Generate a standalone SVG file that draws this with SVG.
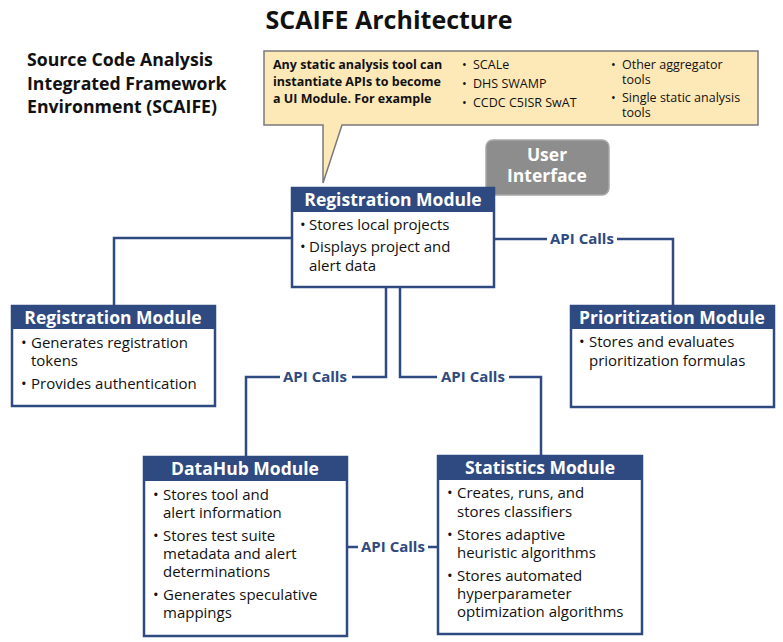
<svg xmlns="http://www.w3.org/2000/svg" width="783" height="642" viewBox="0 0 783 642">
<style>
text{font-family:"Open Sans","Noto Sans","Liberation Sans",sans-serif;}
.hd{fill:#2f4a80;}
.box{fill:#fff;stroke:#2f4a80;stroke-width:2.5;}
.ht{fill:#fff;font-weight:bold;font-size:17.5px;text-anchor:middle;}
.bt{fill:#111;font-size:15px;}
.ct{fill:#111;font-size:12.5px;}
.cb{fill:#111;font-size:12.5px;font-weight:bold;}
.ln{fill:none;stroke:#2f4a80;stroke-width:2.5;}
.api{fill:#2f4a80;font-weight:bold;font-size:15px;}
</style>
<rect width="783" height="642" fill="#fff"/>
<text x="389" y="29" text-anchor="middle" font-weight="bold" font-size="25" fill="#111">SCAIFE Architecture</text>
<g id="heading">
<text x="27" y="66" font-weight="bold" font-size="17.7" fill="#111">Source Code Analysis</text>
<text x="27" y="90" font-weight="bold" font-size="17.7" fill="#111">Integrated Framework</text>
<text x="27" y="113" font-weight="bold" font-size="17.7" fill="#111">Environment (SCAIFE)</text>
</g>
<g id="callout">
<path d="M264,51 H758 V125 H342 L323,183 V125 H264 Z" fill="#fde8b7" stroke="#7a7a7a" stroke-width="1.5"/>
<text class="cb" x="273" y="69">Any static analysis tool can</text>
<text class="cb" x="273" y="86">instantiate APIs to become</text>
<text class="cb" x="273" y="103">a UI Module. For example</text>
<text class="ct" x="462" y="69">•</text><text class="ct" x="473" y="69">SCALe</text>
<text class="ct" x="462" y="88">•</text><text class="ct" x="473" y="88">DHS SWAMP</text>
<text class="ct" x="462" y="107">•</text><text class="ct" x="473" y="107">CCDC C5ISR SwAT</text>
<text class="ct" x="611" y="69">•</text><text class="ct" x="622" y="69">Other aggregator</text>
<text class="ct" x="622" y="84">tools</text>
<text class="ct" x="611" y="102">•</text><text class="ct" x="622" y="102">Single static analysis</text>
<text class="ct" x="622" y="117">tools</text>
</g>
<g id="ui">
<rect x="486" y="140" width="123" height="55" rx="7" fill="#8d8d8d" stroke="#a8a8a8" stroke-width="1.5"/>
<text x="547" y="161" text-anchor="middle" font-weight="bold" font-size="17.5" fill="#fff">User</text>
<text x="547" y="182" text-anchor="middle" font-weight="bold" font-size="17.5" fill="#fff">Interface</text>
</g>
<g id="connectors">
<path class="ln" d="M292,238 H114 V306"/>
<path class="ln" d="M494,239 H547 M617,239 H673 V306"/>
<text class="api" x="550" y="244">API Calls</text>
<path class="ln" d="M386,287 V377 H352 M280,377 H246 V457"/>
<text class="api" x="283" y="382">API Calls</text>
<path class="ln" d="M400,287 V377 H437 M509,377 H541 V456"/>
<text class="api" x="441" y="382">API Calls</text>
<path class="ln" d="M347,547 H358 M428,547 H438"/>
<text class="api" x="361" y="552">API Calls</text>
</g>
<g id="reg-top">
<rect class="box" x="292" y="188" width="202" height="99"/>
<rect class="hd" x="292" y="188" width="202" height="24"/>
<text class="ht" x="393" y="206">Registration Module</text>
<text class="bt" x="300" y="230">•</text><text class="bt" x="309" y="230">Stores local projects</text>
<text class="bt" x="300" y="252">•</text><text class="bt" x="309" y="252">Displays project and</text>
<text class="bt" x="309" y="271">alert data</text>
</g>
<g id="reg-left">
<rect class="box" x="12" y="306" width="203" height="100"/>
<rect class="hd" x="12" y="306" width="203" height="23"/>
<text class="ht" x="113" y="324">Registration Module</text>
<text class="bt" x="21" y="348">•</text><text class="bt" x="31" y="348">Generates registration</text>
<text class="bt" x="31" y="366">tokens</text>
<text class="bt" x="21" y="389">•</text><text class="bt" x="31" y="389">Provides authentication</text>
</g>
<g id="prio">
<rect class="box" x="571" y="306" width="203" height="101"/>
<rect class="hd" x="571" y="306" width="203" height="23"/>
<text class="ht" x="672" y="324">Prioritization Module</text>
<text class="bt" x="579" y="347">•</text><text class="bt" x="589" y="347">Stores and evaluates</text>
<text class="bt" x="589" y="366">prioritization formulas</text>
</g>
<g id="datahub">
<rect class="box" x="144" y="457" width="203" height="179"/>
<rect class="hd" x="144" y="457" width="203" height="24"/>
<text class="ht" x="245" y="475">DataHub Module</text>
<text class="bt" x="153" y="500">•</text><text class="bt" x="163" y="500">Stores tool and</text>
<text class="bt" x="163" y="518">alert information</text>
<text class="bt" x="153" y="541">•</text><text class="bt" x="163" y="541">Stores test suite</text>
<text class="bt" x="163" y="559">metadata and alert</text>
<text class="bt" x="163" y="577">determinations</text>
<text class="bt" x="153" y="600">•</text><text class="bt" x="163" y="600">Generates speculative</text>
<text class="bt" x="163" y="618">mappings</text>
</g>
<g id="stats">
<rect class="box" x="438" y="456" width="204" height="178"/>
<rect class="hd" x="438" y="456" width="204" height="24"/>
<text class="ht" x="540" y="474">Statistics Module</text>
<text class="bt" x="447" y="498">•</text><text class="bt" x="457" y="498">Creates, runs, and</text>
<text class="bt" x="457" y="517">stores classifiers</text>
<text class="bt" x="447" y="540">•</text><text class="bt" x="457" y="540">Stores adaptive</text>
<text class="bt" x="457" y="558">heuristic algorithms</text>
<text class="bt" x="447" y="581">•</text><text class="bt" x="457" y="581">Stores automated</text>
<text class="bt" x="457" y="599">hyperparameter</text>
<text class="bt" x="457" y="617">optimization algorithms</text>
</g>
</svg>
